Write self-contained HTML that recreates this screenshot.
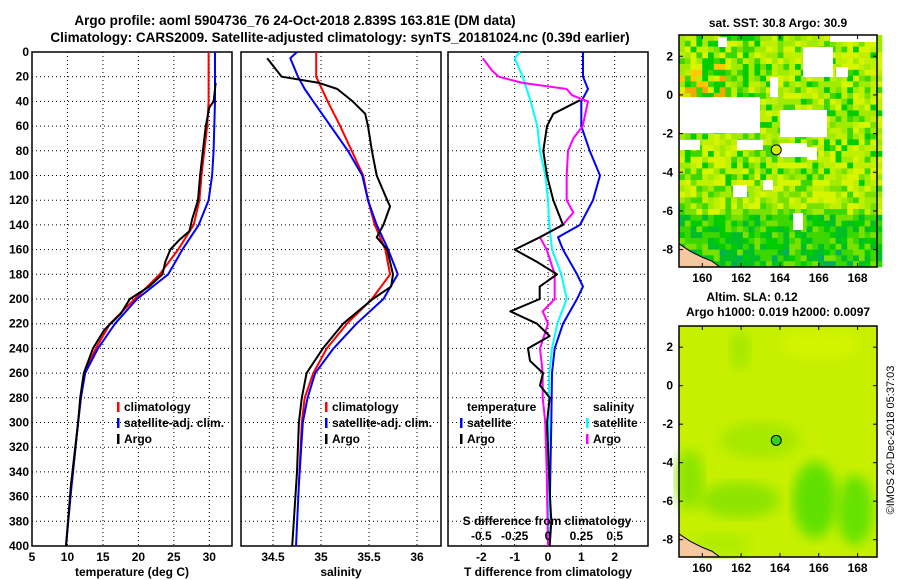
<!DOCTYPE html>
<html><head><meta charset="utf-8">
<style>
body{margin:0;background:#fff;}
svg{display:block;font-family:"Liberation Sans",sans-serif;font-weight:bold;}
text{font-size:12px;fill:#000;}
</style></head>
<body>
<svg id="c" width="900" height="580" viewBox="0 0 900 580">
<text x="295" y="25" text-anchor="middle" style="font-size:13.5px">Argo profile: aoml 5904736_76 24-Oct-2018 2.839S 163.81E (DM data)</text>
<text x="340" y="42" text-anchor="middle" style="font-size:13.5px">Climatology: CARS2009. Satellite-adjusted climatology: synTS_20181024.nc (0.39d earlier)</text>
<g id="maps"></g>
<g id="plots"></g>
<text transform="translate(894,440) rotate(-90)" text-anchor="middle" style="font-size:11px;font-weight:normal">©IMOS 20-Dec-2018 05:37:03</text>
</svg>
<script>
// ---------------- data ----------------
const depthTicks=[0,20,40,60,80,100,120,140,160,180,200,220,240,260,280,300,320,340,360,380,400];
const tempTicks=[5,10,15,20,25,30];
const salTicks=[34.5,35,35.5,36];
const diffTicks=[-2,-1,0,1,2];
const sdiffTicks=[-0.5,-0.25,0,0.25,0.5];
const latTicks=[2,0,-2,-4,-6,-8];
const lonTicks=[160,162,164,166,168];

const tClimDepth=[0,20,40,60,80,100,120,140,160,180,200,220,240,260,280,300,350];
const tClim=[29.9,29.9,29.9,29.7,29.3,28.9,28.6,27.8,25.6,23.0,19.5,16.0,14.0,12.4,11.9,11.5,10.6];
const tSatDepth=[0,20,40,60,80,100,120,140,160,180,200,220,240,260,280,300,350,400];
const tSat=[30.8,30.8,30.8,30.7,30.6,30.4,29.9,28.5,26.2,24.2,19.8,16.7,14.3,12.5,11.9,11.5,10.6,9.8];
const tArgoDepth=[25,40,45,60,80,100,120,135,145,152,160,170,180,190,200,212,225,240,260,280,300,350,400];
const tArgo=[30.9,30.6,30.0,29.5,29.1,28.7,28.4,27.6,27.2,25.8,24.5,23.8,23.4,21.5,18.8,17.5,15.2,13.6,12.3,11.8,11.5,10.5,9.8];

const sClimDepth=[0,20,40,60,80,100,120,140,160,180,200,220,240,260,280,300,350];
const sClim=[34.95,34.95,35.07,35.2,35.32,35.44,35.49,35.56,35.67,35.72,35.53,35.27,35.06,34.92,34.83,34.8,34.77];
const sSatDepth=[0,5,20,30,40,60,80,100,120,140,160,180,200,220,240,260,280,300,350,400];
const sSat=[34.75,34.68,34.76,34.83,34.92,35.1,35.28,35.43,35.49,35.58,35.7,35.8,35.65,35.37,35.13,34.94,34.86,34.81,34.77,34.74];
const sArgoDepth=[5,15,20,25,30,40,50,60,80,100,120,125,140,150,160,180,190,200,220,240,260,280,300,340,400];
const sArgo=[34.44,34.54,34.59,34.98,35.17,35.33,35.46,35.49,35.53,35.58,35.69,35.72,35.65,35.58,35.69,35.75,35.73,35.54,35.23,35.02,34.85,34.8,34.77,34.75,34.7];

const dTSatDepth=[0,20,30,40,60,80,100,120,140,150,160,180,190,200,220,240,260,300,370];
const dTSat=[1.05,1.05,1.2,1.0,1.0,1.25,1.56,1.35,0.96,0.3,0.45,0.87,1.05,0.87,0.45,0.2,0.12,0.1,0.05];
const dTArgoDepth=[39,50,60,80,100,120,140,150,160,170,180,190,200,210,220,230,240,250,260,270,280,300,360,380,400];
const dTArgo=[0.96,0.16,-0.03,-0.14,-0.03,0.16,0.45,-0.25,-1.0,-0.33,0.27,-0.25,-0.25,-1.13,-0.33,0.05,-0.6,-0.54,-0.15,-0.24,0.05,-0.03,0.06,0.1,0.05];
const dSSatDepth=[0,5,20,40,60,80,100,120,140,160,180,200,220,240,260,300,400];
const dSSat=[-0.21,-0.25,-0.19,-0.13,-0.08,-0.06,-0.02,0.0,0.01,0.03,0.1,0.14,0.07,0.03,0.01,0.005,0.005];
const dSArgoDepth=[5,15,20,25,30,35,40,50,60,70,80,100,120,130,140,150,160,180,200,210,220,240,260,280,300,340,400];
const dSArgo=[-0.49,-0.42,-0.37,-0.19,0.14,0.18,0.3,0.28,0.26,0.19,0.15,0.14,0.14,0.19,0.11,-0.06,-0.01,0.05,0.05,-0.04,0.0,-0.06,-0.04,-0.04,-0.02,-0.01,0.0];

// ---------------- drawing ----------------
const NS="http://www.w3.org/2000/svg";
const svg=document.getElementById('c');
const plots=document.getElementById('plots');
const maps=document.getElementById('maps');
function el(t,a,p){const e=document.createElementNS(NS,t);for(const k in a)e.setAttribute(k,a[k]);(p||plots).appendChild(e);return e;}
const yTop=52,yBot=546;
const yScale=d=>yTop+d*(yBot-yTop)/400;

function panel(name,x0,x1,xmin,xmax,ticks,labelTicks,axisTitle){
  const xs=v=>x0+(v-xmin)*(x1-x0)/(xmax-xmin);
  const g=el('g',{});
  
  
  depthTicks.forEach(d=>{if(d>0&&d<400){const l=el('line',{x1:x0,x2:x1,y1:yScale(d),y2:yScale(d),stroke:'#000','stroke-dasharray':'1,3','stroke-width':1},g);
    }});
  ticks.forEach(v=>{const x=xs(v);if(x>x0+1&&x<x1-1){const l=el('line',{x1:x,x2:x,y1:yTop,y2:yBot,stroke:'#000','stroke-dasharray':'1,3','stroke-width':1},g);
    }});
  labelTicks.forEach(v=>{const t=el('text',{x:xs(v),y:yBot+15,'text-anchor':'middle'},g);t.textContent=String(v);
    });
  const tt=el('text',{x:(x0+x1)/2,y:yBot+30,'text-anchor':'middle'},g);tt.textContent=axisTitle;
  
  const r=el('rect',{x:x0,y:yTop,width:x1-x0,height:yBot-yTop,fill:'none',stroke:'#000','stroke-width':1.5},g);
  
  return {xs,g};
}
function series(p,name,depths,vals,color,w,scale){
  const pts=depths.map((d,i)=>p.xs(vals[i]*(scale||1)).toFixed(1)+','+yScale(d).toFixed(1)).join(' ');
  const l=el('polyline',{points:pts,fill:'none',stroke:color,'stroke-width':w,'stroke-linejoin':'round'},p.g);
  
}
function txt(s,x,y,name,anchor,g){const t=el('text',{x:x,y:y,'text-anchor':anchor||'start'},g);t.textContent=s;
  return t;}
function mark(x,y,color,name,g){const l=el('rect',{x:x,y:y-9,width:2.5,height:10,fill:color},g);
  }

depthTicks.forEach(d=>{const t=el('text',{x:29,y:yScale(d)+4,'text-anchor':'end'});t.textContent=d;
  });

const p1=panel('temperature-panel',32,232,5,33.2,tempTicks,tempTicks,'temperature (deg C)');
series(p1,'temp-climatology-line',tClimDepth,tClim,'#f00',2);
series(p1,'temp-satellite-line',tSatDepth,tSat,'#00f',2);
series(p1,'temp-argo-line',tArgoDepth,tArgo,'#000',2);
mark(117,411,'#f00','legend-climatology-marker',p1.g);txt('climatology',124,411,'legend-climatology','start',p1.g);
mark(117,427,'#00f','legend-satellite-marker',p1.g);txt('satellite-adj. clim.',124,427,'legend-satellite','start',p1.g);
mark(117,443,'#000','legend-argo-marker',p1.g);txt('Argo',124,443,'legend-argo','start',p1.g);

const p2=panel('salinity-panel',241,441,34.5-32/96,34.5+168/96,salTicks,salTicks,'salinity');
series(p2,'sal-climatology-line',sClimDepth,sClim,'#f00',2);
series(p2,'sal-satellite-line',sSatDepth,sSat,'#00f',2);
series(p2,'sal-argo-line',sArgoDepth,sArgo,'#000',2);
mark(325,411,'#f00','legend-climatology-marker',p2.g);txt('climatology',332,411,'legend-climatology','start',p2.g);
mark(325,427,'#00f','legend-satellite-marker',p2.g);txt('satellite-adj. clim.',332,427,'legend-satellite','start',p2.g);
mark(325,443,'#000','legend-argo-marker',p2.g);txt('Argo',332,443,'legend-argo','start',p2.g);

const p3=panel('difference-panel',448,648,-3,3,diffTicks,diffTicks,'T difference from climatology');
series(p3,'dT-satellite-line',dTSatDepth,dTSat,'#00f',2);
series(p3,'dS-satellite-line',dSSatDepth,dSSat,'#0ff',2,4);
series(p3,'dS-argo-line',dSArgoDepth,dSArgo,'#f0f',2,4);
series(p3,'dT-argo-line',dTArgoDepth,dTArgo,'#000',2);
txt('temperature',467,411,'legend-temperature-heading','start',p3.g);
txt('salinity',593,411,'legend-salinity-heading','start',p3.g);
mark(460,427,'#00f','legend-t-satellite-marker',p3.g);txt('satellite',467,427,'legend-t-satellite','start',p3.g);
mark(460,443,'#000','legend-t-argo-marker',p3.g);txt('Argo',467,443,'legend-t-argo','start',p3.g);
mark(586,427,'#0ff','legend-s-satellite-marker',p3.g);txt('satellite',593,427,'legend-s-satellite','start',p3.g);
mark(586,443,'#f0f','legend-s-argo-marker',p3.g);txt('Argo',593,443,'legend-s-argo','start',p3.g);
txt('S difference from climatology',547,525,'s-axis-title','middle',p3.g);
sdiffTicks.forEach(v=>txt(String(v),p3.xs(v*4),540,'s-tick-label','middle',p3.g));

// ---------------- maps ----------------
function mapFrame(name,x0,x1,yT,yB,lat0,lat1,lon0,lon1){
  const g=el('g',{},maps);
  
  const lx=v=>x0+(v-lon0)*(x1-x0)/(lon1-lon0);
  const ly=v=>yT+(lat1-v)*(yB-yT)/(lat1-lat0);
  return {g,lx,ly,x0,x1,yT,yB};
}
function hash(i,j,s){let h=(i*374761393+j*668265263+s*982451653)|0;h=(h^(h>>>13))*1274126177|0;return ((h^(h>>>16))>>>0)/4294967296;}
const YG=[[215,245,0],[190,240,0],[160,235,0],[120,225,0],[60,215,0],[0,205,0],[0,190,40],[0,175,90]];
const m1=mapFrame('sst-map',679,877,35,267,-8.9,3.1,158.8,169);
const cs=5.8;
for(let j=0;j<Math.ceil(232/cs);j++)for(let i=0;i<Math.ceil(198/cs);i++){
  const y=j*cs, r=hash(i,j,1), r2=hash(i,j,7);
  let idx;
  if(y<150){ idx=Math.floor(r*3.2); if(r2>0.8)idx=4+Math.floor(r*2); if(y<60&&i>2&&i<14&&r2>0.45)idx=4+Math.floor(r*2);}
  else if(y<175){ idx=Math.floor(r*5);}
  else { idx=3+Math.floor(r*4); if(y>210&&r2>0.7)idx=6+Math.floor(r*2);}
  idx=Math.min(7,idx);
  let c='rgb('+YG[idx].join(',')+')';
  if(y>25&&y<80&&i<8&&r2<0.3)c=r<0.5?'rgb(255,200,0)':'rgb(240,170,0)';
  const rc=el('rect',{x:679+i*cs,y:35+j*cs,width:cs+0.3,height:cs+0.3,fill:c},m1.g);
  
}
[[718,37,9,10],[680,97,80,36],[680,140,20,10],[737,140,26,10],[770,77,8,20],[780,110,47,27],[780,143,27,14],[807,147,10,13],[803,47,30,30],[830,35,47,7],[836,67,12,10],[763,180,10,10],[733,185,14,12],[793,213,10,17],[700,265,5,2]].forEach(w=>{
  const rc=el('rect',{x:w[0],y:w[1],width:w[2],height:w[3],fill:'#fff'},m1.g);
  });
const m2=mapFrame('sla-map',679,877,326,557,-8.9,3.1,158.8,169);
(function(){const g=m2.g;
  const b=el('rect',{x:679,y:326,width:198,height:231,fill:'#c6f000'},g);
  const defs=el('defs',{},g);const f=el('filter',{id:'bl'},defs);el('feGaussianBlur',{stdDeviation:6},f);
  [[760,440,40,18,'#a6e800'],[815,500,22,38,'#60e000'],[740,500,40,18,'#8ee400'],[855,510,18,35,'#66e200'],[690,480,14,30,'#8ce400'],[740,350,10,20,'#a4e800'],[720,545,30,12,'#b0ec00'],[820,345,40,14,'#d4f400']].forEach(e=>{
    const x=el('ellipse',{cx:e[0],cy:e[1],rx:e[2],ry:e[3],fill:e[4],filter:'url(#bl)'},g);
    });
})();
[m1,m2].forEach((m,k)=>{
  const g=m.g;
  const land=el('polygon',{points:`${m.x0},${m.ly(-7.7)} ${m.lx(159.4)},${m.ly(-8.1)} ${m.lx(160.0)},${m.ly(-8.4)} ${m.lx(160.5)},${m.ly(-8.6)} ${m.lx(160.9)},${m.yB} ${m.x0},${m.yB}`,fill:'#f5c8a0',stroke:'#000','stroke-width':1},g);
  
  const fr=el('rect',{x:m.x0,y:m.yT,width:m.x1-m.x0,height:m.yB-m.yT,fill:'none',stroke:'#000','stroke-width':1.5},g);
  
  latTicks.forEach(v=>{txt(String(v),m.x0-6,m.ly(v)+4,'lat-tick-label','end',g);
    el('line',{x1:m.x0,x2:m.x0+4,y1:m.ly(v),y2:m.ly(v),stroke:'#000'},g);el('line',{x1:m.x1-4,x2:m.x1,y1:m.ly(v),y2:m.ly(v),stroke:'#000'},g);});
  lonTicks.forEach(v=>{txt(String(v),m.lx(v),m.yB+15,'lon-tick-label','middle',g);
    el('line',{x1:m.lx(v),x2:m.lx(v),y1:m.yB-4,y2:m.yB,stroke:'#000'},g);el('line',{x1:m.lx(v),x2:m.lx(v),y1:m.yT,y2:m.yT+4,stroke:'#000'},g);});
  const pt=el('circle',{cx:m.lx(163.81),cy:m.ly(-2.839),r:5,fill:k?'#30d020':'#d0f000',stroke:'#000','stroke-width':1},g);
  
});
txt('sat. SST: 30.8 Argo: 30.9',778,27,'sst-map-title','middle',m1.g);
txt('Altim. SLA: 0.12',752,301,'sla-map-title','middle',m2.g);
txt('Argo h1000: 0.019 h2000: 0.0097',778,316,'sla-map-subtitle','middle',m2.g);
</script>
</body></html>
